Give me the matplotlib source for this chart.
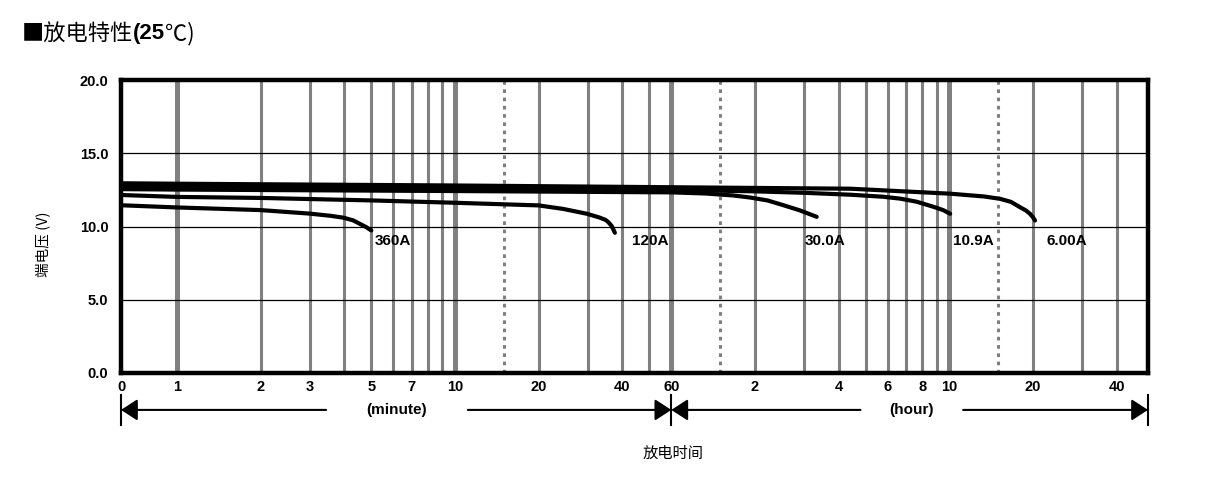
import matplotlib
matplotlib.use('Agg')
import matplotlib.pyplot as plt

plt.rcParams['font.family'] = ['Liberation Sans', 'Noto Sans CJK SC', 'DejaVu Sans']
CJK = ['Noto Sans CJK SC', 'DejaVu Sans']

# discharge curves: time in minutes, terminal voltage in V
t_360 = [0.63, 1, 2, 3, 3.6, 3.97, 4.3, 4.55, 4.8, 5.0]
v_360 = [11.45, 11.3, 11.12, 10.88, 10.72, 10.6, 10.42, 10.18, 9.95, 9.73]

t_120 = [0.63, 1, 2, 5, 10, 20, 24.5, 29.8, 33, 34.8, 35.6, 36.6, 37.6]
v_120 = [12.15, 12.02, 11.95, 11.78, 11.62, 11.44, 11.2, 10.87, 10.62, 10.45, 10.3, 10.04, 9.57]

t_30 = [0.63, 1, 10, 60, 80, 100, 115, 133, 152, 174, 200]
v_30 = [12.55, 12.52, 12.42, 12.33, 12.25, 12.12, 11.98, 11.78, 11.45, 11.1, 10.66]

t_10_9 = [0.63, 1, 10, 60, 120, 180, 264, 347, 400, 458, 525, 570, 604]
v_10_9 = [12.75, 12.72, 12.6, 12.5, 12.4, 12.3, 12.17, 12.03, 11.9, 11.69, 11.35, 11.12, 10.87]

t_6 = [0.63, 1, 10, 60, 264, 604, 800, 913, 1000, 1077, 1130, 1170, 1200, 1220]
v_6 = [12.95, 12.92, 12.8, 12.68, 12.58, 12.24, 12.05, 11.89, 11.68, 11.32, 11.1, 10.87, 10.62, 10.41]

curve_labels = ['360A', '120A', '30.0A', '10.9A', '6.00A']
label_pos = [(5.16, 9.0), (43.3, 9.0), (181.6, 9.0), (618, 9.0), (1347, 9.0)]

# x ticks (minutes) and their labels
tick_min = [0.629, 1, 2, 3, 5, 7, 10, 20, 40, 60, 120, 240, 360, 480, 600, 1200, 2400]
tick_lbl = ['0', '1', '2', '3', '5', '7', '10', '20', '40', '60',
            '2', '4', '6', '8', '10', '20', '40']

grid_thin = [2, 3, 4, 5, 6, 7, 8, 9, 20, 30, 40, 50, 120, 180, 240, 300, 360,
             420, 480, 540, 1200, 1800, 2400]
grid_thick = [1, 10, 60, 600]
grid_dash = [15, 90, 900]

fig = plt.figure(figsize=(12.08, 4.87), dpi=100)
ax = fig.add_axes([121 / 1208, 1 - 373 / 487, 1027 / 1208, 293 / 487])
ax.set_xscale('log')
ax.set_xlim(0.629, 3110)
ax.set_ylim(0, 20)

gray = '#808080'
for x in grid_thin:
    ax.axvline(x, color=gray, lw=2.2, zorder=1)
for x in grid_thick:
    ax.axvline(x, color=gray, lw=3.6, zorder=1)
for x in grid_dash:
    ax.axvline(x, color=gray, lw=2.2, ls=(0, (1.2, 1.5)), zorder=1)
for y in [5, 10, 15]:
    ax.axhline(y, color='black', lw=0.9, zorder=2)

for t, v in [(t_360, v_360), (t_120, v_120), (t_30, v_30), (t_10_9, v_10_9), (t_6, v_6)]:
    ax.plot(t, v, color='black', lw=3, solid_capstyle='round',
            solid_joinstyle='round', zorder=3)

for lbl, (x, y) in zip(curve_labels, label_pos):
    ax.text(x, y, lbl, fontsize=11, fontweight='bold', ha='left', va='center')

for s in ax.spines.values():
    s.set_linewidth(3.2)

ax.set_yticks([0, 5, 10, 15, 20])
ax.set_yticklabels(['0.0', '5.0', '10.0', '15.0', '20.0'], fontsize=10.5, fontweight='bold')
ax.set_xticks(tick_min)
ax.set_xticklabels(tick_lbl, fontsize=10.5, fontweight='bold')
ax.xaxis.set_minor_locator(matplotlib.ticker.NullLocator())
ax.tick_params(axis='both', length=0)
ax.tick_params(axis='y', pad=9)
ax.tick_params(axis='x', pad=5)

ax.set_ylabel('端电压 (V)', family=CJK, fontsize=10.5)
ax.yaxis.set_label_coords(-0.069, 0.44)

# span arrows below the axis
tr = ax.get_xaxis_transform()
ya = -0.126
aprops = dict(arrowstyle='-|>,head_length=1.0,head_width=0.65', color='black',
              lw=1.5, shrinkA=0, shrinkB=0, mutation_scale=10)
spans = [(0.629, 60, 0.2687, 0.069, '(minute)'), (60, 3110, 0.770, 0.050, '(hour)')]
for x0, x1, cen, half, txt in spans:
    ax.annotate('', xy=(x0, ya), xycoords=tr, xytext=(cen - half, ya),
                textcoords='axes fraction', arrowprops=aprops, annotation_clip=False)
    ax.annotate('', xy=(x1, ya), xycoords=tr, xytext=(cen + half, ya),
                textcoords='axes fraction', arrowprops=aprops, annotation_clip=False)
    ax.text(cen, ya, txt, transform=ax.transAxes, fontsize=11, fontweight='bold',
            ha='center', va='center')
for x in [0.629, 60, 3110]:
    ax.plot([x, x], [-0.075, -0.177], transform=tr, color='black', lw=1.5, clip_on=False)

fig.text(673 / 1208, 1 - 453 / 487, '放电时间', family=CJK, fontsize=11,
         ha='center', va='center')

# title
t1 = fig.text(22 / 1208, 1 - 34 / 487, '■放电特性', family=CJK, fontsize=16,
              ha='left', va='center')
t2 = plt.annotate('(25', xy=(1, 0.5), xycoords=t1, fontsize=16, fontweight='bold',
                  ha='left', va='center')
plt.annotate('℃)', xy=(1, 0.5), xycoords=t2, fontsize=16, family=CJK,
             ha='left', va='center')

fig.savefig('out.png', dpi=100)
